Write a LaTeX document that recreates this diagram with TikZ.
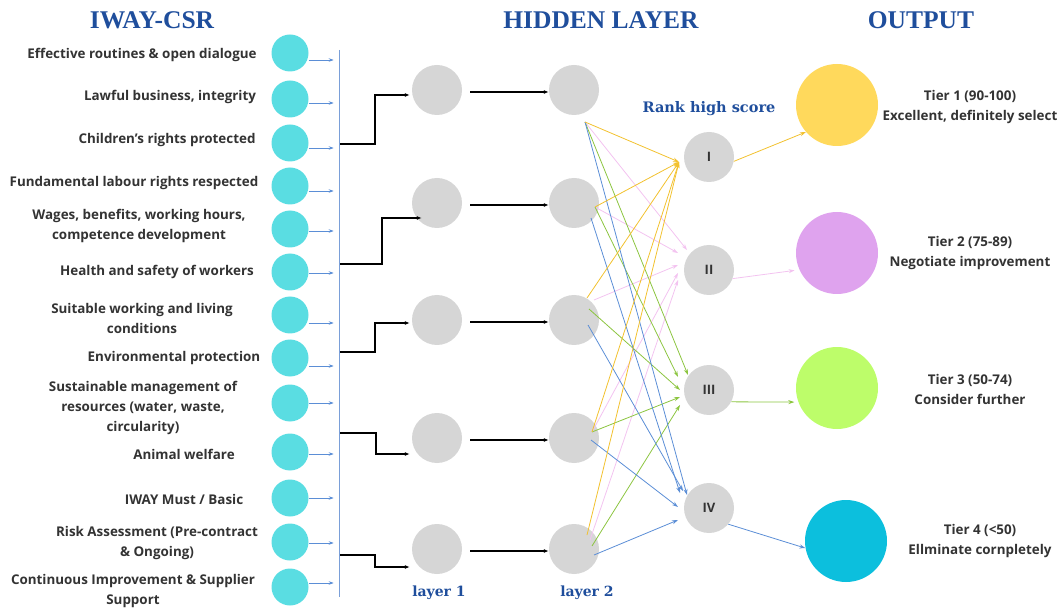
\documentclass[tikz,border=0pt]{standalone}
\usepackage{fontspec}
\setmainfont{Open Sans}
\newfontfamily\titlefont{Liberation Serif}
\newfontfamily\labfont{DejaVu Serif}
\usetikzlibrary{arrows.meta}
\definecolor{titleblue}{HTML}{1F4E9C}
\definecolor{incyan}{HTML}{5ADDE2}
\definecolor{hidgray}{HTML}{D6D6D6}
\definecolor{tyellow}{HTML}{FFD95C}
\definecolor{tpurple}{HTML}{DFA3EE}
\definecolor{tgreen}{HTML}{BDFD6A}
\definecolor{tcyan}{HTML}{0CBFDD}
\definecolor{lyellow}{HTML}{F2C12E}
\definecolor{lpink}{HTML}{F3C3F0}
\definecolor{lgreen}{HTML}{8CC540}
\definecolor{lblue}{HTML}{5B8ED6}
\definecolor{busblue}{HTML}{7A9FD8}
\definecolor{txt}{HTML}{333333}
\begin{document}
\begin{tikzpicture}[x=1pt,y=-1pt,
  incirc/.style={circle,fill=incyan,minimum size=37pt,inner sep=0pt},
  hid/.style={circle,fill=hidgray,minimum size=50pt,inner sep=0pt},
  rank/.style={circle,fill=hidgray,minimum size=50pt,inner sep=0pt,text=txt,font=\fontsize{13}{15}\selectfont\bfseries},
  outc/.style={circle,minimum size=82pt,inner sep=0pt},
  lab/.style={align=center,text=txt,font=\fontsize{13.4}{20}\selectfont\bfseries,inner sep=0pt},
  ttl/.style={text=titleblue,font=\titlefont\bfseries\fontsize{25.5}{30}\selectfont,inner sep=0pt},
  blab/.style={text=titleblue,font=\labfont\bfseries\fontsize{14}{16}\selectfont,inner sep=0pt},
  inarr/.style={draw=lblue,line width=0.7pt,-{Stealth[length=5pt,width=3.5pt]}},
  busline/.style={draw=busblue,line width=0.8pt},
  elbow/.style={draw=black,line width=1.4pt,-{Latex[length=5pt,width=4pt]}},
  harr/.style={draw=black,line width=1.4pt,-{Latex[length=5pt,width=4pt]}},
  ya/.style={draw=lyellow,line width=0.8pt,-{Stealth[length=6pt,width=4pt]}},
  pa/.style={draw=lpink,line width=0.8pt,-{Stealth[length=6pt,width=4pt]}},
  ga/.style={draw=lgreen,line width=0.8pt,-{Stealth[length=6pt,width=4pt]}},
  ba/.style={draw=lblue,line width=0.8pt,-{Stealth[length=6pt,width=4pt]}}
]
\useasboundingbox (0,0) rectangle (1063,612);

% titles
\node[ttl] (t-in) at (152,20) {IWAY-CSR};
\node[ttl] (t-hid) at (601,20) {HIDDEN LAYER};
\node[ttl] (t-out) at (921,20) {OUTPUT};

% input circles
\foreach \i/\y in {1/53,2/99,3/143,4/186,5/229,6/272,7/315,8/358,9/403,10/452,11/498,12/542,13/587}
  \node[incirc] (in\i) at (290,\y) {};
\foreach \i/\d in {1/-7,2/-4,3/-5,4/-5,5/-2,6/-1,7/-8,8/-8,9/0,10/-2,11/0,12/-1,13/4}
  \draw[inarr] ([yshift=\d pt]in\i.east) -- ++(25,0);

% input labels
\node[lab] (l1) at (142,55) {Effective routines \& open dialogue};
\node[lab] (l2) at (170,97) {Lawful business, integrity};
\node[lab] (l3) at (167,140) {Children's rights protected};
\node[lab] (l4) at (134,183) {Fundamental labour rights respected};
\node[lab] (l5) at (139,226) {Wages, benefits, working hours,\\competence development};
\node[lab] (l6) at (157,272) {Health and safety of workers};
\node[lab] (l7) at (142,318) {Suitable working and living\\conditions};
\node[lab] (l8) at (174,358) {Environmental protection};
\node[lab] (l9) at (143,408) {Sustainable management of\\resources (water, waste,\\circularity)};
\node[lab] (l10) at (184,454) {Animal welfare};
\node[lab] (l11) at (184,499) {IWAY Must / Basic};
\node[lab] (l12) at (157,543) {Risk Assessment (Pre-contract\\\& Ongoing)};
\node[lab] (l13) at (133,591) {Continuous Improvement \& Supplier\\Support};

% bus line
\coordinate (busT) at (339,50);
\coordinate (busB) at (339,597);
\draw[busline] (busT) -- (busB);

% hidden layers
\foreach \i/\y in {1/90,2/203,3/320,4/438,5/549}{
  \node[hid] (h\i) at (437,\y) {};
  \node[hid] (g\i) at (574,\y) {};
}
\node[blab] (lay1) at (439,593) {layer 1};
\node[blab] (lay2) at (587,593) {layer 2};

% elbows
\coordinate (e1) at (340,144);
\coordinate (e2) at (340,264);
\coordinate (e3) at (340,352);
\coordinate (e4) at (340,433);
\coordinate (e5) at (340,555);
\draw[elbow] (e1) -- ++(35,0) |- ([xshift=-2pt,yshift=-5pt]h1.west);
\draw[elbow] (e2) -- ++(42,0) |- ([xshift=10pt,yshift=-15pt]h2.west);
\draw[elbow] (e3) -- ++(35,0) |- ([xshift=-2pt,yshift=-3pt]h3.west);
\draw[elbow] (e4) -- ++(36,0) |- ([xshift=-2pt,yshift=-16pt]h4.west);
\draw[elbow] (e5) -- ++(35,0) |- ([xshift=-2pt,yshift=-18pt]h5.west);

\foreach \i in {1,...,5}
  \draw[harr] ([xshift=8pt,yshift=-2pt]h\i.east) -- ([yshift=-2pt]g\i.west);

% rank nodes
\node[blab,font=\labfont\bfseries\fontsize{14.5}{16}\selectfont] (rhs) at (709,109) {Rank high score};
\node[rank] (r1) at (709,157) {I};
\node[rank] (r2) at (709,270) {II};
\node[rank] (r3) at (709,390) {III};
\node[rank] (r4) at (709,508) {IV};

% output nodes
\node[outc,fill=tyellow] (o1) at (837,105) {};
\node[outc,fill=tpurple] (o2) at (837,253) {};
\node[outc,fill=tgreen] (o3) at (837,388) {};
\node[outc,fill=tcyan] (o4) at (846,541) {};
\node[lab] (ot1) at (970,107) {Tier 1 (90-100)\\Excellent, definitely select};
\node[lab] (ot2) at (970,253) {Tier 2 (75-89)\\Negotiate improvement};
\node[lab] (ot3) at (970,389) {Tier 3 (50-74)\\Consider further};
\node[lab] (ot4) at (980,541) {Tier 4 (<50)\\Ellminate cornpletely};

% source points
\coordinate (s1) at (585,122);
\coordinate (s2) at (595,207);
\coordinate (s2b) at (591,218);
\coordinate (s3y) at (587,298);
\coordinate (s3p) at (594,300);
\coordinate (s3g) at (589,309);
\coordinate (s3b) at (588,325);
\coordinate (s4) at (592,432);
\coordinate (s4b) at (591,440);
\coordinate (s5y) at (587,535);
\coordinate (s5p) at (590,540);
\coordinate (s5g) at (592,546);
\coordinate (s5b) at (594,555);
% targets
\coordinate (aI) at (679,162);
\coordinate (aII1) at (687,250);
\coordinate (aII2) at (678,253);
\coordinate (aII3) at (678,265);
\coordinate (aII4) at (678,273);
\coordinate (aII5) at (678,280);
\coordinate (aIII1) at (688,375);
\coordinate (aIII2) at (678,377);
\coordinate (aIII3) at (680,390);
\coordinate (aIII4) at (680,397);
\coordinate (aIII5) at (680,405);
\coordinate (aIV1) at (687,495);
\coordinate (aIV2) at (680,493);
\coordinate (aIV3) at (683,491);
\coordinate (aIV4) at (678,507);
\coordinate (aIV5) at (678,520);

\draw[pa] (s1) -- (aII1);
\draw[pa] (s2) -- (aII2);
\draw[pa] (s3p) -- (aII3);
\draw[pa] (s4) -- (aII4);
\draw[pa] (s5p) -- (aII5);
\draw[ga] (s1) -- (aIII1);
\draw[ga] (s2) -- (aIII2);
\draw[ga] (s3g) -- (aIII3);
\draw[ga] (s4) -- (aIII4);
\draw[ga] (s5g) -- (aIII5);
\draw[ba] (s1) -- (aIV1);
\draw[ba] (s2b) -- (aIV2);
\draw[ba] (s3b) -- (aIV3);
\draw[ba] (s4b) -- (aIV4);
\draw[ba] (s5b) -- (aIV5);
\draw[ya] (s1) -- (aI);
\draw[ya] (s2) -- (aI);
\draw[ya] (s3y) -- (aI);
\draw[ya] (s4) -- (aI);
\draw[ya] (s5y) -- (aI);

% rank to output
\draw[ya] (r1.-10) -- (o1.221);
\draw[pa] (r2.-20) -- ([xshift=-5pt]o2.205);
\draw[ga] (r3.-28) -- ([xshift=-4pt]o3.200);
\draw[ba] (r4.-40) -- (o4.190);
\end{tikzpicture}
\end{document}
